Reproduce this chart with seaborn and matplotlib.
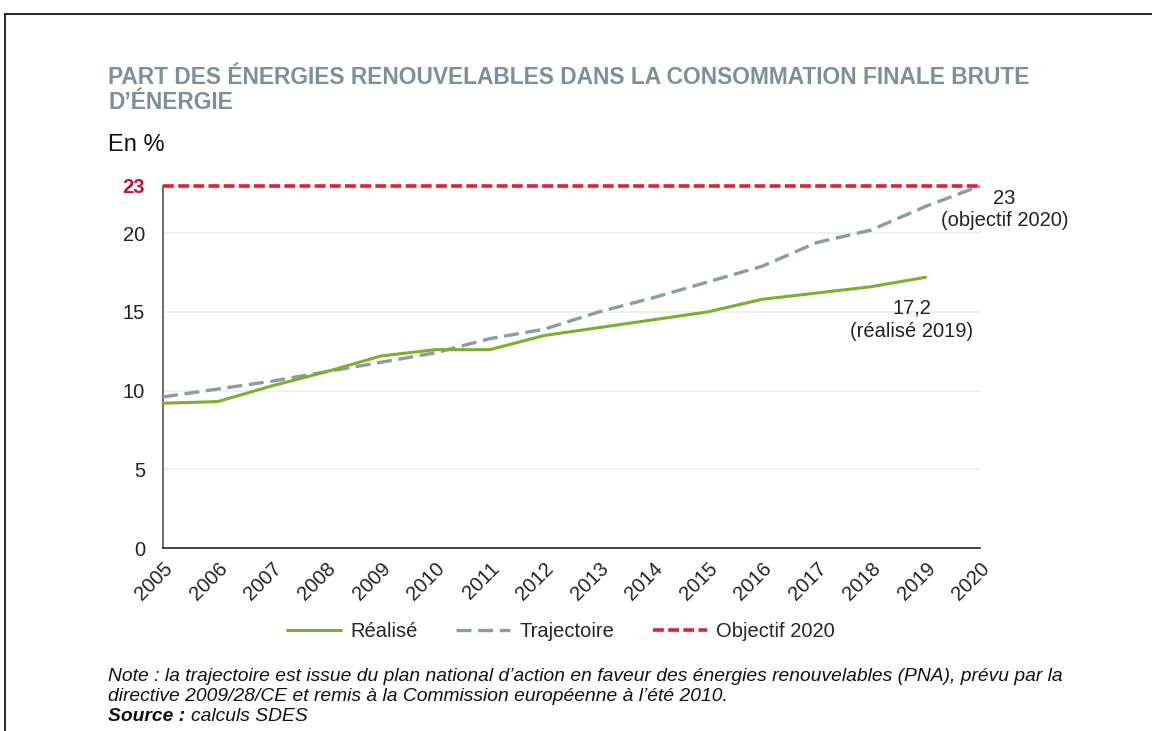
import pandas as pd
import matplotlib.pyplot as plt
import matplotlib.lines as mlines
import matplotlib.transforms as mtransforms
import seaborn as sns

# ==========================================
# DONNÉES
# ==========================================
annees = list(range(2005, 2021))
realise = [9.2, 9.3, 10.3, 11.2, 12.2, 12.6, 12.6, 13.5, 14.0, 14.5, 15.0, 15.8, 16.2, 16.6, 17.2]
trajectoire = [9.6, 10.1, 10.6, 11.2, 11.8, 12.4, 13.3, 13.9, 15.0, 15.9, 16.9, 17.9, 19.4, 20.2, 21.7, 23.0]
objectif_2020 = 23

df_real = pd.DataFrame({'Année': annees[:len(realise)], 'Part': realise})
df_traj = pd.DataFrame({'Année': annees, 'Part': trajectoire})
df_obj = pd.DataFrame({'Année': [annees[0], annees[-1]], 'Part': [objectif_2020, objectif_2020]})

vert = '#7cb02c'
gris = '#8d9ba5'
rouge = '#df2038'

sns.set_theme(style="white")
plt.rcParams['font.family'] = ['Liberation Sans', 'DejaVu Sans']

fig = plt.figure(figsize=(11.52, 7.31), dpi=100)
ax = fig.add_axes([0.1415, 0.2503, 0.7092, 0.4953])

# lignes de grille très discrètes
for v in [5, 10, 15, 20]:
    ax.axhline(v, color='#ededed', lw=1.2, zorder=0)

sns.lineplot(data=df_obj, x='Année', y='Part', ax=ax, color=rouge, lw=2.6,
             label='Objectif 2020', clip_on=False, zorder=3)
ax.lines[-1].set_dashes([3, 1.2])
sns.lineplot(data=df_traj, x='Année', y='Part', ax=ax, color=gris, lw=2.4,
             label='Trajectoire', clip_on=False, zorder=4)
ax.lines[-1].set_dashes([4.5, 2])
sns.lineplot(data=df_real, x='Année', y='Part', ax=ax, color=vert, lw=2.2,
             label='Réalisé', clip_on=False, zorder=5)

ax.set_xlim(2005, 2020)
ax.set_ylim(0, 23)
ax.set_xticks(annees)
ax.set_xticklabels([str(a) for a in annees], rotation=45, ha='right',
                   rotation_mode='anchor', fontsize=14.5)
decal = mtransforms.ScaledTranslation(7 / 72, 0, fig.dpi_scale_trans)
for lab in ax.get_xticklabels():
    lab.set_transform(lab.get_transform() + decal)
ax.set_yticks([0, 5, 10, 15, 20, 23])
ax.set_yticklabels(['0', '5', '10', '15', '20', '23'], fontsize=14.5)
ax.tick_params(axis='both', direction='out', length=5, width=1, colors='#333333',
               labelcolor='#222222')
ax.tick_params(axis='y', pad=8)
ax.tick_params(axis='x', pad=3)
lab23 = ax.get_yticklabels()[-1]
lab23.set_color('#c8102e')
lab23.set_fontweight('bold')
ax.set_xlabel('')
ax.set_ylabel('')

for s in ['top', 'right']:
    ax.spines[s].set_visible(False)
ax.spines['left'].set_color('#555555')
ax.spines['bottom'].set_color('#222222')
ax.spines['left'].set_linewidth(1.2)
ax.spines['bottom'].set_linewidth(1.2)

# légende : ordre Réalisé / Trajectoire / Objectif
h, l = ax.get_legend_handles_labels()
ordre = [l.index('Réalisé'), l.index('Trajectoire'), l.index('Objectif 2020')]
ax.legend([h[i] for i in ordre], [l[i] for i in ordre], ncol=3, frameon=False,
          loc='center', bbox_to_anchor=(0.487, -0.23),
          handlelength=2.7, columnspacing=1.9, handletextpad=0.45,
          prop={'size': 14.5})

# annotations
ax.text(2020.45, 21.5, '23\n(objectif 2020)', ha='center', va='center', fontsize=14.5,
        color='#222222', linespacing=1.25)
ax.text(2018.75, 14.5, '17,2\n(réalisé 2019)', ha='center', va='center', fontsize=14.5,
        color='#222222', linespacing=1.25)

# titres
fig.text(0.094, 0.877, 'PART DES ÉNERGIES RENOUVELABLES DANS LA CONSOMMATION FINALE BRUTE\nD\u2019ÉNERGIE',
         ha='left', va='center', fontsize=16.4, fontweight='bold', color='#7d8f99',
         linespacing=1.15)
fig.text(0.094, 0.801, 'En %', ha='left', va='center', fontsize=17, color='#111111')

# note et source
fig.text(0.094, 0.061,
         'Note : la trajectoire est issue du plan national d\u2019action en faveur des énergies renouvelables (PNA), prévu par la\n'
         'directive 2009/28/CE et remis à la Commission européenne à l\u2019été 2010.',
         ha='left', va='center', fontsize=13.9, style='italic', color='#111111', linespacing=1.2)
src = fig.text(0.094, 0.020, 'Source : ', ha='left', va='center', fontsize=13.9, style='italic',
               fontweight='bold', color='#111111')
fig.canvas.draw()
bb = src.get_window_extent().transformed(fig.transFigure.inverted())
fig.text(bb.x1, 0.020, 'calculs SDES', ha='left', va='center', fontsize=13.9, style='italic',
         color='#111111')

# cadre noir (haut et gauche)
fig.add_artist(mlines.Line2D([0.004, 1.0], [0.981, 0.981], color='black', lw=1.2,
                             transform=fig.transFigure))
fig.add_artist(mlines.Line2D([0.004, 0.004], [0.0, 0.981], color='black', lw=1.2,
                             transform=fig.transFigure))

plt.savefig('out.png', dpi=100)
